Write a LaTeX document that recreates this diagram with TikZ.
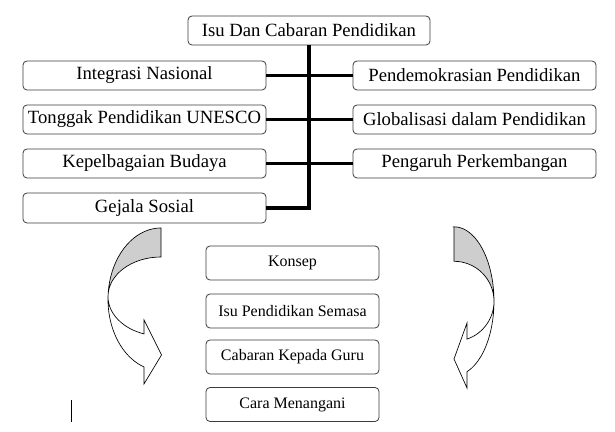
\documentclass[tikz,border=0pt]{standalone}
\usepackage{fontspec}
\setmainfont{Liberation Serif}
\usepackage{xcolor}
\usetikzlibrary{
	positioning,    % posisi relatif nod
	calc
}
\definecolor{abu}{RGB}{206,206,206}
\definecolor{garis}{RGB}{60,60,60}

\begin{document}
\begin{tikzpicture}[
				x=0.75pt, y=0.75pt,
				kotak/.style={draw=garis, line width=0.6pt, rounded corners=3pt, fill=white,
					minimum width=182.25pt, minimum height=21.75pt, inner sep=1pt, font=\fontsize{14}{16}\selectfont},
				kotakkecil/.style={kotak, minimum width=129.75pt, minimum height=25.5pt, font=\fontsize{12}{14}\selectfont},
				cabang/.style={line width=2.25pt},
				batang/.style={line width=3pt},
				anakpanah/.style={draw=black, line width=0.5pt, line join=miter}
				]
				\useasboundingbox (0,0) rectangle (615,432);
				
				% --- Tajuk utama ---
				\node[kotak, minimum width=181.5pt] (isu) at (309,401.5) {Isu Dan Cabaran Pendidikan};
				
				% --- Kotak kiri ---
				\node[kotak] (integrasi) at (144.5,356.5) {Integrasi Nasional};
				\node[kotak] (tonggak) at (144.5,312.5) {Tonggak Pendidikan UNESCO};
				\node[kotak] (budaya) at (144.5,268.5) {Kepelbagaian Budaya};
				\node[kotak, minimum height=22.5pt] (gejala) at (144.5,224) {Gejala Sosial};
				
				% --- Kotak kanan ---
				\node[kotak] (demokrasi) at (474.5,356.5) {Pendemokrasian Pendidikan};
				\node[kotak] (global) at (474.5,312.5) {Globalisasi dalam Pendidikan};
				\node[kotak] (pengaruh) at (474.5,268.5) {Pengaruh Perkembangan};
				
				% --- Garis penyambung ---
				\draw[batang] (isu.south) |- (gejala.east);
				\draw[cabang] (integrasi.east) -- (demokrasi.west);
				\draw[cabang] (tonggak.east) -- (global.west);
				\draw[cabang] (budaya.east) -- (pengaruh.west);
				
				% --- Kotak bawah ---
				\node[kotakkecil] (konsep) at (292.5,169) {Konsep};
				\node[kotakkecil] (semasa) at (292.5,121) {Isu Pendidikan Semasa};
				\node[kotakkecil] (guru) at (292.5,75) {Cabaran Kepada Guru};
				\node[kotakkecil] (cara) at (292.5,27.5) {Cara Menangani};
				
				% --- Anak panah melengkung kiri ---
				\coordinate (kiriluar) at (161,204);
				\coordinate (kiridalam) at (161,175);
				\fill[white] (kiriluar) -- (kiridalam)
				arc[start angle=90, end angle=251.29, x radius=39.75pt, y radius=29.625pt]
				-- (144,112) -- (161.5,77) -- (144,48) -- (144,65)
				arc[start angle=251.29, end angle=90, x radius=39.75pt, y radius=53.55pt] -- cycle;
				\fill[abu] (kiriluar)
				arc[start angle=90, end angle=180, x radius=39.75pt, y radius=53.55pt]
				-- ($(kiridalam)+(-53,-39.5)$)
				arc[start angle=180, end angle=90, x radius=39.75pt, y radius=29.625pt] -- cycle;
				\draw[anakpanah] (kiriluar) -- (kiridalam)
				arc[start angle=90, end angle=251.29, x radius=39.75pt, y radius=29.625pt]
				-- (144,112) -- (161.5,77) -- (144,48) -- (144,65)
				arc[start angle=251.29, end angle=90, x radius=39.75pt, y radius=53.55pt] -- cycle;
				
				% --- Anak panah melengkung kanan ---
				\coordinate (kananluar) at (454,205.2);
				\coordinate (kanandalam) at (454,170.7);
				\fill[white] (kananluar) -- (kanandalam)
				arc[start angle=90, end angle=-71, x radius=30pt, y radius=30pt]
				-- (467,109) -- (454,73) -- (467,44) -- (467,60.25)
				arc[start angle=-71, end angle=90, x radius=30pt, y radius=55.875pt] -- cycle;
				\fill[abu] (kananluar)
				arc[start angle=90, end angle=0, x radius=30pt, y radius=55.875pt]
				-- ($(kanandalam)+(40,-40)$)
				arc[start angle=0, end angle=90, x radius=30pt, y radius=30pt] -- cycle;
				\draw[anakpanah] (kananluar) -- (kanandalam)
				arc[start angle=90, end angle=-71, x radius=30pt, y radius=30pt]
				-- (467,109) -- (454,73) -- (467,44) -- (467,60.25)
				arc[start angle=-71, end angle=90, x radius=30pt, y radius=55.875pt] -- cycle;
				
				% --- Garis kecil ---
				\draw[line width=0.75pt] (71,10) -- (71,32);
				
			\end{tikzpicture}
\end{document}
